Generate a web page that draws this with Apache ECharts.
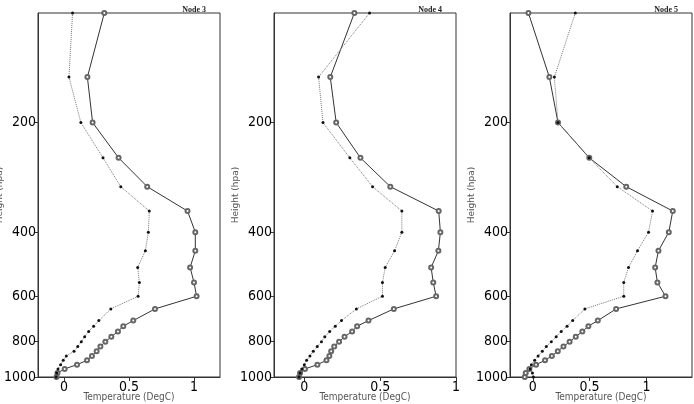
<!DOCTYPE html>
<html>
<head>
<meta charset="utf-8">
<script src="https://cdn.jsdelivr.net/npm/echarts@6/dist/echarts.min.js"></script>
<style>
    html, body { margin: 0; padding: 0; background: #fff; }
    #main { width: 694px; height: 404px; }
</style>
</head>
<body>
<div id="main"></div>
<script>
// pressure levels (hPa), shared by all three nodes
var levels = [100, 150, 200, 250, 300, 350, 400, 450, 500, 550, 600, 650, 700,
    725, 750, 775, 800, 825, 850, 875, 900, 925, 950, 975, 1000];

// Node 3
var node3Solid = [0.31, 0.18, 0.22, 0.42, 0.64, 0.95, 1.01, 1.01, 0.97, 1.0, 1.02, 0.70, 0.533,
    0.456, 0.415, 0.364, 0.318, 0.28, 0.251, 0.215, 0.177, 0.10, 0.005, -0.05, -0.058];
var node3Dotted = [0.066, 0.038, 0.13, 0.30, 0.437, 0.656, 0.649, 0.626, 0.567, 0.58, 0.57, 0.36, 0.268,
    0.228, 0.19, 0.159, 0.133, 0.106, 0.077, 0.018, -0.006, -0.026, -0.046, -0.056, -0.06];

// Node 4
var node4Solid = [0.33, 0.171, 0.21, 0.37, 0.567, 0.886, 0.897, 0.884, 0.836, 0.85, 0.869, 0.59, 0.423,
    0.348, 0.315, 0.265, 0.229, 0.197, 0.177, 0.165, 0.146, 0.086, 0.004, -0.028, -0.035];
var node4Dotted = [0.43, 0.094, 0.123, 0.30, 0.45, 0.643, 0.643, 0.595, 0.533, 0.515, 0.515, 0.343, 0.245,
    0.204, 0.167, 0.135, 0.113, 0.085, 0.059, 0.037, 0.015, 0.0, -0.017, -0.028, -0.035];

// Node 5
var node5Solid = [-0.038, 0.146, 0.222, 0.497, 0.822, 1.231, 1.196, 1.105, 1.076, 1.096, 1.167, 0.733, 0.572,
    0.489, 0.436, 0.378, 0.324, 0.27, 0.22, 0.168, 0.108, 0.029, -0.03, -0.062, -0.07];
var node5Dotted = [0.374, 0.19, 0.222, 0.497, 0.743, 1.053, 1.018, 0.921, 0.842, 0.80, 0.80, 0.458, 0.351,
    0.302, 0.25, 0.206, 0.163, 0.119, 0.084, 0.047, 0.017, -0.012, -0.023, -0.003, 0.006];

var yTicks = [200, 400, 600, 800, 1000];
var xTicks = [0, 0.5, 1];
var titles = ['Node 3', 'Node 4', 'Node 5'];
var xMax = [1.2, 1.0, 1.4];

var panels = [
    { solid: node3Solid, dotted: node3Dotted },
    { solid: node4Solid, dotted: node4Dotted },
    { solid: node5Solid, dotted: node5Dotted }
];

var lefts = [38, 274, 510];
var titleRights = [483, 247, 11];
var font = "'DejaVu Sans Condensed', 'Liberation Sans', sans-serif";

function pairs(vals) {
    return vals.map(function (v, i) { return [v, levels[i]]; });
}

var option = {
    backgroundColor: '#fff',
    animation: false,
    title: [],
    grid: [],
    xAxis: [],
    yAxis: [],
    series: []
};

panels.forEach(function (p, i) {
    option.title.push({
        text: titles[i],
        right: titleRights[i],
        top: 1,
        textStyle: { fontFamily: 'Liberation Serif', fontSize: 8, fontWeight: 'bold', color: '#222' }
    });
    option.grid.push({
        left: lefts[i], top: 13, width: 182, height: 364,
        outerBoundsMode: 'none',
        containLabel: false,
        show: true, borderColor: '#333', borderWidth: 1, backgroundColor: 'transparent'
    });
    option.xAxis.push({
        type: 'value',
        gridIndex: i,
        min: -0.2,
        max: xMax[i],
        name: 'Temperature (DegC)',
        nameLocation: 'middle',
        nameGap: 15,
        nameMoveOverlap: false,
        nameTextStyle: { fontFamily: font, fontSize: 10, color: '#555' },
        axisLine: { show: true, onZero: false, lineStyle: { color: '#333', width: 1 } },
        axisTick: { show: true, length: 4, customValues: xTicks, lineStyle: { color: '#333' } },
        axisLabel: {
            customValues: xTicks, margin: 3,
            fontFamily: font, fontSize: 14, color: '#000',
            formatter: function (v) { return String(v); }
        },
        splitLine: { show: false }
    });
    option.yAxis.push({
        type: 'log',
        gridIndex: i,
        min: 100,
        max: 1000,
        inverse: true,
        name: 'Height (hpa)',
        nameLocation: 'middle',
        nameGap: 34,
        nameMoveOverlap: false,
        nameTextStyle: { fontFamily: 'DejaVu Sans', fontSize: 9, color: '#555' },
        axisLine: { show: true, onZero: false, lineStyle: { color: '#333', width: 1 } },
        axisTick: { show: true, length: 4, customValues: yTicks, lineStyle: { color: '#333' } },
        axisLabel: {
            customValues: yTicks, margin: 2,
            fontFamily: font, fontSize: 14, color: '#000',
            formatter: function (v) { return String(v); }
        },
        splitLine: { show: false },
        minorTick: { show: false }
    });
    option.series.push({
        type: 'line',
        xAxisIndex: i,
        yAxisIndex: i,
        data: pairs(p.solid),
        symbol: 'emptyCircle',
        symbolSize: 4,
        lineStyle: { color: '#333', width: 1 },
        itemStyle: { color: '#666', borderWidth: 0.5 },
        z: 2
    });
    option.series.push({
        type: 'line',
        xAxisIndex: i,
        yAxisIndex: i,
        data: pairs(p.dotted),
        symbol: 'circle',
        symbolSize: 3,
        lineStyle: { color: '#777', width: 1, type: 'dotted' },
        itemStyle: { color: '#111' },
        z: 3
    });
});

var myChart = echarts.init(document.getElementById('main'));
myChart.setOption(option);
</script>
</body>
</html>
